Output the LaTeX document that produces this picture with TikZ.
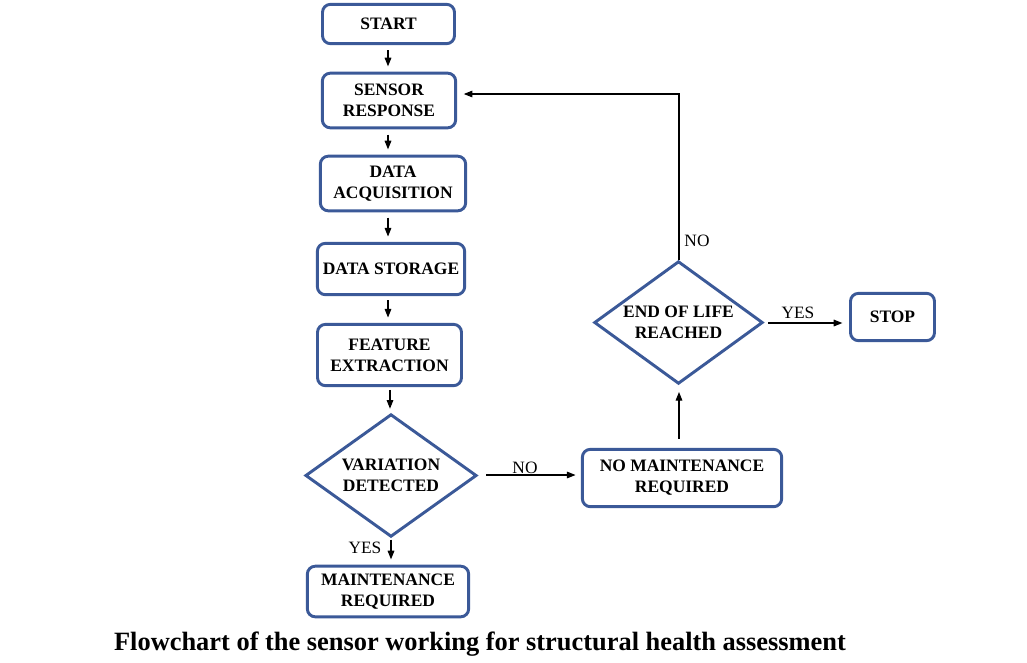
\documentclass[tikz,border=0pt]{standalone}
\usepackage{fontspec}
\setmainfont{Liberation Serif}
\usetikzlibrary{shapes.geometric,arrows.meta}
\definecolor{bordblue}{RGB}{59,89,152}
\tikzset{
  box/.style={draw=bordblue, line width=2.2pt, rounded corners=6pt, align=center,
    font=\fontsize{13.1}{15.75}\selectfont\bfseries, inner sep=0pt},
  dia/.style={draw=bordblue, line width=2.2pt, diamond, aspect=1.4, align=center,
    font=\fontsize{13.1}{15.75}\selectfont\bfseries, inner sep=0pt},
  arr/.style={-{Triangle[length=6.5pt,width=5pt]}, line width=0.8pt},
  lbl/.style={font=\fontsize{13}{15}\selectfont, inner sep=0pt},
}
\begin{document}
\begin{tikzpicture}[x=0.75pt,y=-0.75pt]
\useasboundingbox (0,0) rectangle (1027,662);
\node[box, minimum width=99pt, minimum height=29.5pt] (start) at (388.5,24) {START};
\node[box, minimum width=100pt, minimum height=41pt] (sr) at (389,100.5) {SENSOR\\RESPONSE};
\node[box, minimum width=109pt, minimum height=41pt] (da) at (393,183.5) {DATA\\ACQUISITION};
\node[box, minimum width=110.5pt, minimum height=38.5pt] (ds) at (391,269) {DATA STORAGE};
\node[box, minimum width=108pt, minimum height=46pt] (fe) at (389.5,355) {FEATURE\\EXTRACTION};
\node[dia, minimum width=128.5pt, minimum height=92pt] (vd) at (391,475.5) {VARIATION\\DETECTED};
\node[box, minimum width=121pt, minimum height=38pt] (mr) at (388,591.5) {MAINTENANCE\\REQUIRED};
\node[box, minimum width=149.5pt, minimum height=43pt] (nmr) at (682,478) {NO MAINTENANCE\\REQUIRED};
\node[dia, minimum width=126.5pt, minimum height=92pt] (eol) at (678.5,322.5) {END OF LIFE\\REACHED};
\node[box, minimum width=63pt, minimum height=35.5pt] (stop) at (892.5,317) {STOP};

\coordinate (c1) at (388,0);
\coordinate (c2) at (390,0);
\coordinate (c3) at (391,0);
\coordinate (c4) at (679,0);
\coordinate (ybend) at (0,94);
\coordinate (yyes) at (0,323);
\coordinate (yno) at (0,475);

\draw[arr, shorten <=4pt, shorten >=4pt] (start.south -| c1) -- (sr.north -| c1);
\draw[arr, shorten <=4pt, shorten >=4pt] (sr.south -| c1) -- (da.north -| c1);
\draw[arr, shorten <=4pt, shorten >=4pt] (da.south -| c1) -- (ds.north -| c1);
\draw[arr, shorten <=3pt, shorten >=4pt] (ds.south -| c1) -- (fe.north -| c1);
\draw[arr, shorten <=2pt, shorten >=3pt] (fe.south -| c2) -- (vd.north -| c2);
\draw[arr, shorten <=1pt, shorten >=4pt] (vd.south -| c3) -- (mr.north -| c3);
\draw[arr, shorten <=6pt, shorten >=4pt] (vd.east |- yno) -- (nmr.west |- yno);
\draw[arr, shorten <=7pt, shorten >=5pt] (nmr.north -| c4) -- (eol.south -| c4);
\draw[arr, shorten >=5pt] (eol.north -| c4) -- (c4 |- ybend) -- (sr.east |- ybend);
\draw[arr, shorten <=3pt, shorten >=5pt] (eol.east |- yyes) -- (stop.west |- yyes);

\node[lbl] (yes1) at (365,548) {YES};
\node[lbl] (no1) at (525,468) {NO};
\node[lbl] (no2) at (697,241) {NO};
\node[lbl] (yes2) at (798,313) {YES};

\node[font=\fontsize{19.8}{22}\selectfont\bfseries, inner sep=0pt] (cap) at (480,644) {Flowchart of the sensor working for structural health assessment};
\end{tikzpicture}
\end{document}
